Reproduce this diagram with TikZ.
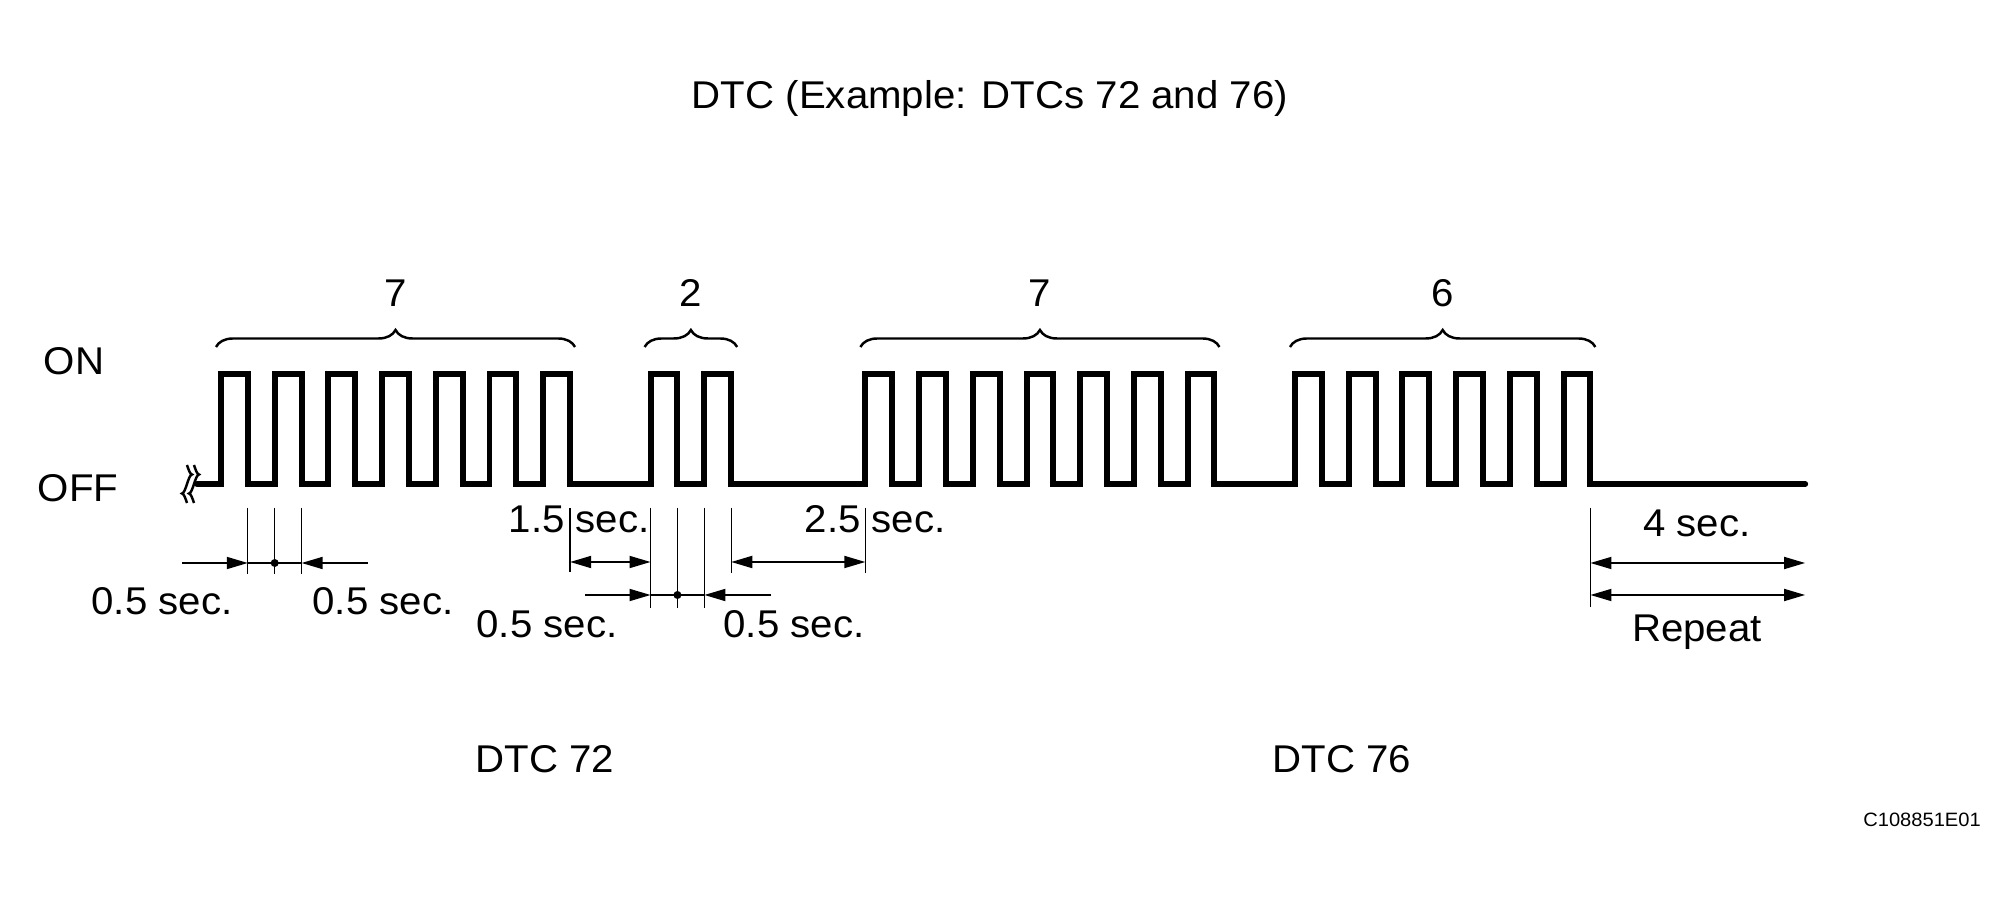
\documentclass[tikz,border=0pt]{standalone}
\usepackage{fontspec}
\setmainfont{Liberation Sans}[FakeStretch=1.04]
\usetikzlibrary{arrows.meta,decorations.pathreplacing,positioning}

\begin{document}
\begin{tikzpicture}[x=0.01cm,y=-0.01cm,
    declare function={tx(\t)=221+53.7*\t;},
    lbl/.style={inner sep=0pt,font=\fontsize{11}{13}\selectfont},
    tiny/.style={inner sep=0pt,font=\fontsize{5.5}{7}\selectfont},
    wave/.style={line width=1.7pt,line cap=round},
    brc/.style={line width=0.7pt,decorate,decoration={brace,amplitude=0.17cm}},
    ext/.style={line width=0.35pt},
    dimline/.style={line width=0.55pt},
    dim/.style={line width=0.55pt,{Triangle[length=6pt,width=3.4pt]}-{Triangle[length=6pt,width=3.4pt]}},
    half/.style={line width=0.55pt,-{Triangle[length=6pt,width=3.4pt]}}]
  \useasboundingbox (0,0) rectangle (2016,901);

  \node[lbl,anchor=base] (ttl) at (990,109) {DTC (Example: DTCs 72 and 76)};
  \node[lbl,anchor=base west] (on) at (43,375) {ON};
  \node[lbl,anchor=base west] (off) at (37,502) {OFF};

  \foreach \bx in {187,194}
    \draw[line width=0.7pt] (\bx,465) sin (\bx+5,474.5) cos (\bx,484) sin (\bx-5,493.5) cos (\bx,503);

  \draw[wave] (197,484) foreach \s/\m in {0/6,8/1,12/6,20/5} {
      foreach \k in {0,...,\m} {
        -- ({tx(\s+\k)},484) |- ({tx(\s+\k+0.5)},374) |- ({tx(\s+\k+1)},484)
      }
    } -- ({tx(29.5)},484);

  \draw[brc] ({tx(0)-5},347) -- ({tx(6.5)+5},347);
  \draw[brc] ({tx(8)-6},347) -- ({tx(9.5)+6},347);
  \draw[brc] ({tx(12)-5},347) -- ({tx(18.5)+5},347);
  \draw[brc] ({tx(20)-5},347) -- ({tx(25.5)+5},347);
  \node[lbl,anchor=base] (g1) at ({tx(3.25)},307) {7};
  \node[lbl,anchor=base] (g2) at ({tx(8.75)},307) {2};
  \node[lbl,anchor=base] (g3) at ({tx(15.25)},307) {7};
  \node[lbl,anchor=base] (g4) at ({tx(22.75)},307) {6};

  \foreach \t in {0.5,1,1.5} \draw[ext] ({tx(\t)},508) -- ({tx(\t)},574);
  \coordinate (p0) at (182,563);
  \coordinate (p1) at ({tx(0.5)},563);
  \coordinate (p2) at ({tx(1)},563);
  \coordinate (p3) at ({tx(1.5)},563);
  \coordinate (p4) at (368,563);
  \draw[half] (p0) -- (p1);
  \draw[half] (p4) -- (p3);
  \draw[dimline] (p1) -- (p3);
  \fill (p2) circle (0.04cm);
  \node[lbl,anchor=base] (d1) at (162,615) {0.5 sec.};
  \node[lbl,anchor=base] (d2) at (383,615) {0.5 sec.};

  \draw[ext] ({tx(6.5)},508) -- ({tx(6.5)},572);
  \draw[ext] ({tx(8)},508) -- ({tx(8)},608);
  \coordinate (q1) at ({tx(6.5)},562);
  \coordinate (q2) at ({tx(8)},562);
  \draw[dim] (q1) -- (q2);
  \node[lbl,anchor=base west] (d3) at (508,533) {1.5 sec.};

  \foreach \t in {8.5,9} \draw[ext] ({tx(\t)},508) -- ({tx(\t)},608);
  \coordinate (r0) at (585,595);
  \coordinate (r1) at ({tx(8)},595);
  \coordinate (r2) at ({tx(8.5)},595);
  \coordinate (r3) at ({tx(9)},595);
  \coordinate (r4) at (771,595);
  \draw[half] (r0) -- (r1);
  \draw[half] (r4) -- (r3);
  \draw[dimline] (r1) -- (r3);
  \fill (r2) circle (0.04cm);
  \node[lbl,anchor=base] (d4) at (547,638) {0.5 sec.};
  \node[lbl,anchor=base] (d5) at (794,638) {0.5 sec.};

  \foreach \t in {9.5,12} \draw[ext] ({tx(\t)},508) -- ({tx(\t)},573);
  \coordinate (s1) at ({tx(9.5)},562);
  \coordinate (s2) at ({tx(12)},562);
  \draw[dim] (s1) -- (s2);
  \node[lbl,anchor=base west] (d6) at (804,533) {2.5 sec.};

  \draw[ext] ({tx(25.5)},508) -- ({tx(25.5)},607);
  \coordinate (u1) at ({tx(25.5)},563);
  \coordinate (u2) at ({tx(29.5)},563);
  \coordinate (v1) at ({tx(25.5)},595);
  \coordinate (v2) at ({tx(29.5)},595);
  \draw[dim] (u1) -- (u2);
  \draw[dim] (v1) -- (v2);
  \node[lbl,anchor=base] (d7) at (1697,537) {4 sec.};
  \node[lbl,anchor=base] (rpt) at (1697,642) {Repeat};

  \node[lbl,anchor=base] (c72) at (545,772) {DTC 72};
  \node[lbl,anchor=base] (c76) at (1342,772) {DTC 76};
  \node[tiny,anchor=base] (code) at (1922,826) {C108851E01};
\end{tikzpicture}
\end{document}
